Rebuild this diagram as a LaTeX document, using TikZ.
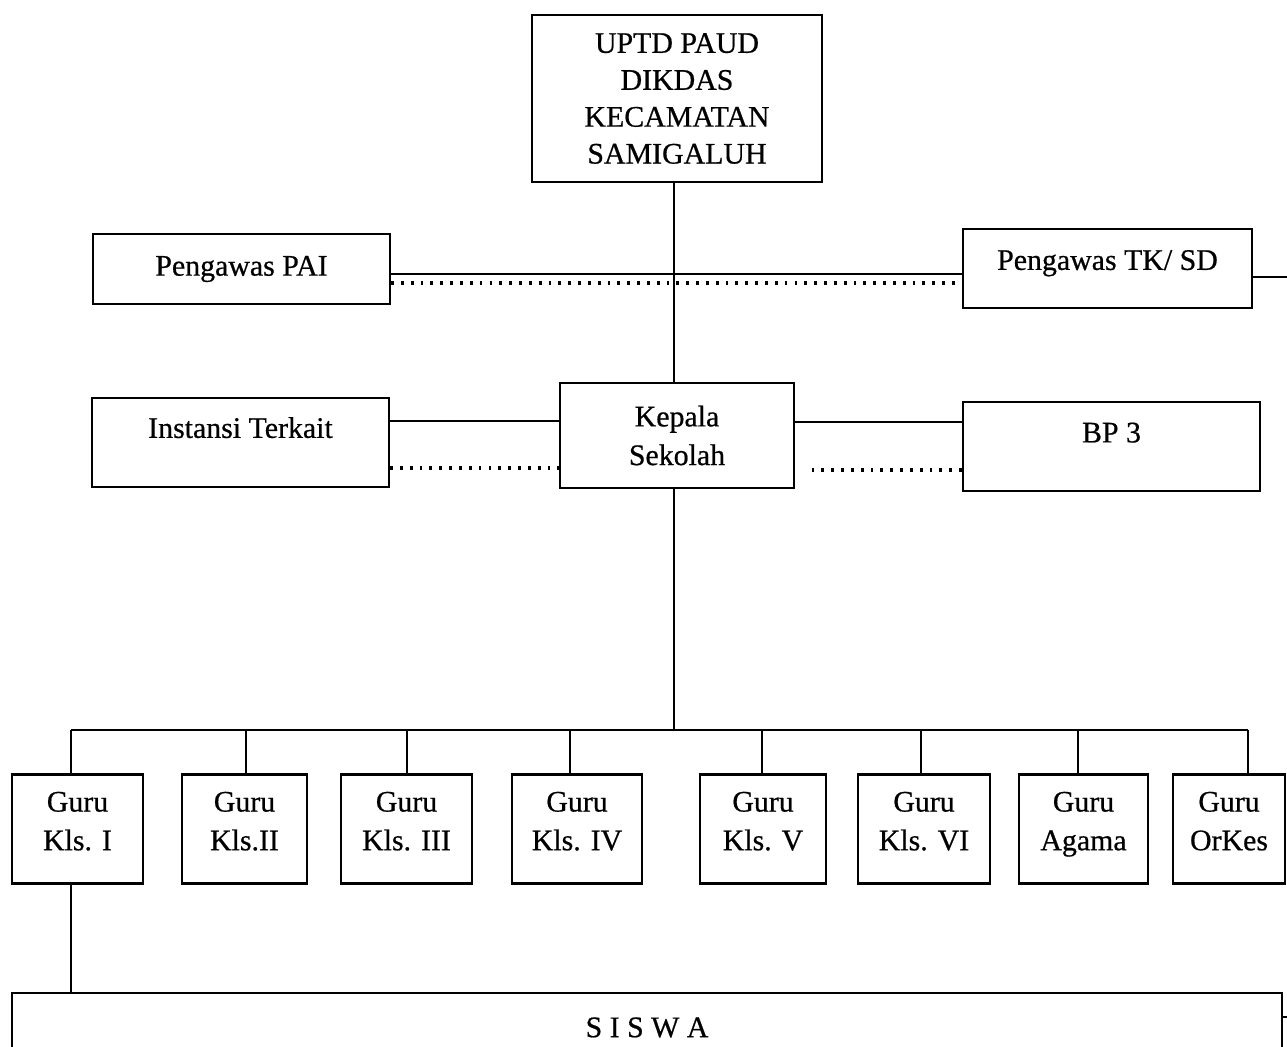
\documentclass[tikz,border=0pt]{standalone}
\usepackage{fontspec}
\setmainfont{Liberation Serif}[FakeBold=0.6]
\usetikzlibrary{positioning, calc}

\begin{document}
\begin{tikzpicture}[
  x=0.02cm, y=-0.02cm,
  box/.style={draw, line width=1.3pt, align=center, inner sep=2pt, font=\fontsize{17}{22}\selectfont},
  guru/.style={box, minimum height=2.18cm, text depth=0.32cm},
  line/.style={line width=1.3pt},
  dots/.style={line width=1.9pt, dash pattern=on 1.6pt off 4pt}
]
\useasboundingbox (0,0) rectangle (1287,1047);

\node[box, minimum width=5.8cm, minimum height=3.34cm,
  font=\fontsize{17}{21}\selectfont] (uptd) at (677,98.5) {UPTD PAUD\\DIKDAS\\KECAMATAN\\SAMIGALUH};

\node[box, minimum width=5.94cm, minimum height=1.4cm] (pai) at (241.5,269) {Pengawas PAI};
\node[box, minimum width=5.78cm, minimum height=1.58cm, text depth=0.34cm] (tksd) at (1107.5,268.5) {Pengawas TK/ SD};

\node[box, minimum width=5.94cm, minimum height=1.78cm, text depth=0.6cm] (instansi) at (240.5,442.5) {Instansi Terkait};
\node[box, minimum width=4.68cm, minimum height=2.1cm] (kepala) at (677,435.5) {Kepala\\Sekolah};
\node[box, minimum width=5.94cm, minimum height=1.78cm, text depth=0.56cm] (bp3) at (1111.5,446.5) {BP 3};

\node[guru, minimum width=2.62cm] (g1) at (77.5,829) {Guru\\Kls. I};
\node[guru, minimum width=2.5cm] (g2) at (244.5,829) {Guru\\Kls.II};
\node[guru, minimum width=2.62cm] (g3) at (406.5,829) {Guru\\Kls. III};
\node[guru, minimum width=2.6cm] (g4) at (577,829) {Guru\\Kls. IV};
\node[guru, minimum width=2.52cm] (g5) at (763,829) {Guru\\Kls. V};
\node[guru, minimum width=2.64cm] (g6) at (924,829) {Guru\\Kls. VI};
\node[guru, minimum width=2.58cm] (g7) at (1083.5,829) {Guru\\Agama};
\node[guru, minimum width=2.24cm] (g8) at (1229,829) {Guru\\OrKes};

\node[box, minimum width=25.4cm, minimum height=1.38cm] (siswa) at (647,1027.5) {S I S W A};

% spine and bus
\coordinate (spine) at (674,730);
\coordinate (b1) at (71,730);
\coordinate (b2) at (246,730);
\coordinate (b3) at (407,730);
\coordinate (b4) at (570,730);
\coordinate (b5) at (762,730);
\coordinate (b6) at (921,730);
\coordinate (b7) at (1078,730);
\coordinate (b8) at (1248,730);
\coordinate (edgeR) at (1300,277);
\coordinate (edgeS) at (1300,1017);

\draw[line] (uptd.south -| spine) -- (kepala.north -| spine);
\draw[line] (kepala.south -| spine) -- (spine);
\draw[line] (b1) -- (b8);
\draw[line] (b1) -- (b1 |- g1.north);
\draw[line] (b2) -- (b2 |- g2.north);
\draw[line] (b3) -- (b3 |- g3.north);
\draw[line] (b4) -- (b4 |- g4.north);
\draw[line] (b5) -- (b5 |- g5.north);
\draw[line] (b6) -- (b6 |- g6.north);
\draw[line] (b7) -- (b7 |- g7.north);
\draw[line] (b8) -- (b8 |- g8.north);
\draw[line] (g1.south -| b1) -- (siswa.north -| b1);

% side links
\draw[line] ([yshift=-0.1cm]pai.east) -- ([yshift=-0.1cm]pai.east -| tksd.west);
\draw[dots] ([yshift=-0.28cm]pai.east) -- ([yshift=-0.28cm]pai.east -| tksd.west);
\draw[line] (tksd.east |- edgeR) -- (edgeR);

\draw[line] ([yshift=0.43cm]instansi.east) -- ([yshift=0.43cm]instansi.east -| kepala.west);
\draw[dots] ([yshift=-0.51cm]instansi.east) -- ([yshift=-0.51cm]instansi.east -| kepala.west);
\draw[line] ([yshift=0.49cm]bp3.west) -- ([yshift=0.49cm]bp3.west -| kepala.east);
\draw[dots, shorten >=0.22cm] ([yshift=-0.47cm]bp3.west) -- ([yshift=-0.47cm]bp3.west -| kepala.east);

\draw[line] (siswa.east |- edgeS) -- (edgeS);

\end{tikzpicture}
\end{document}
